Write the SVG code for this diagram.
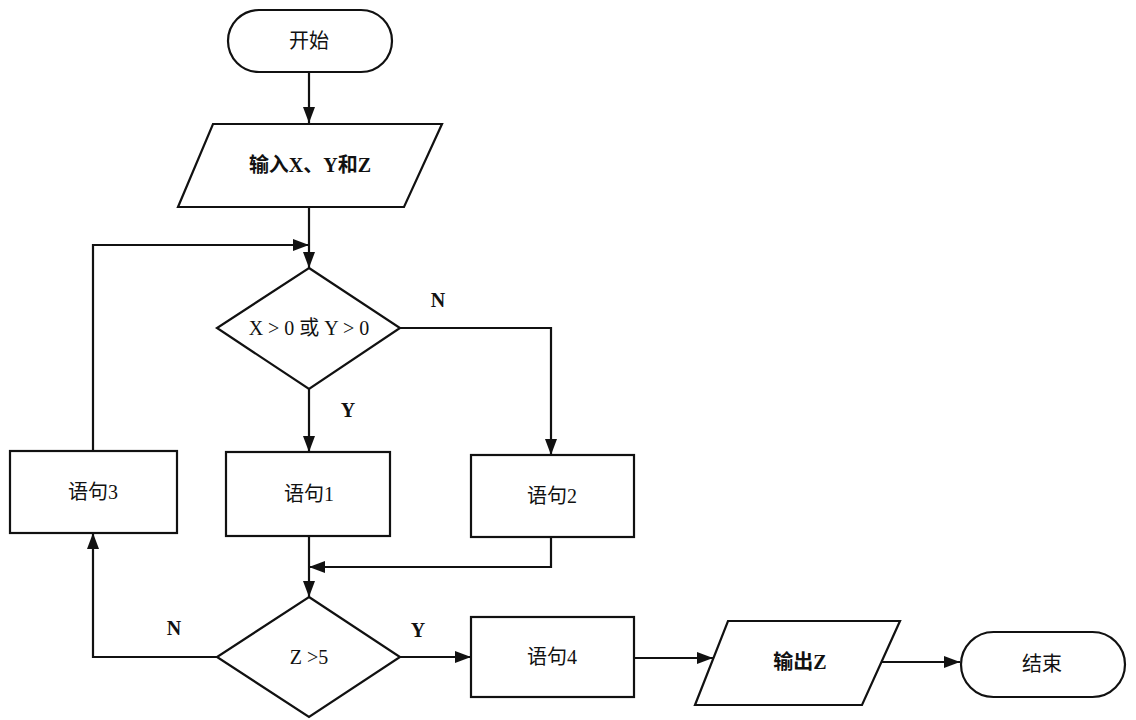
<svg xmlns="http://www.w3.org/2000/svg" width="1136" height="720" viewBox="0 0 1136 720">
<style>
.s{fill:#fff;stroke:#111;stroke-width:2.2}
.c{fill:none;stroke:#111;stroke-width:2.2}
.t{font-family:"Liberation Serif","Noto Sans CJK SC",serif;font-size:20px;fill:#111;text-anchor:middle;dominant-baseline:central}
.b{font-weight:bold}
</style>
<defs>
<marker id="a" viewBox="0 0 16 12" refX="16" refY="6" markerWidth="16" markerHeight="12" markerUnits="userSpaceOnUse" orient="auto">
<path d="M0,0 L16,6 L0,12 Z" fill="#111"/>
</marker>
</defs>
<rect width="1136" height="720" fill="#fff"/>
<g id="connectors">
<path class="c" d="M309,72 V123" marker-end="url(#a)"/>
<path class="c" d="M309,207 V268" marker-end="url(#a)"/>
<path class="c" d="M93,451 V245 H309" marker-end="url(#a)"/>
<path class="c" d="M400,328 H551 V455" marker-end="url(#a)"/>
<path class="c" d="M309,389 V452" marker-end="url(#a)"/>
<path class="c" d="M309,536 V597" marker-end="url(#a)"/>
<path class="c" d="M551,537 V567 H309" marker-end="url(#a)"/>
<path class="c" d="M217,657 H93 V533" marker-end="url(#a)"/>
<path class="c" d="M400,657 H471" marker-end="url(#a)"/>
<path class="c" d="M634,658 H713" marker-end="url(#a)"/>
<path class="c" d="M881,662 H960" marker-end="url(#a)"/>
<text class="t b" x="438" y="300" font-size="17">N</text>
<text class="t b" x="348" y="410" font-size="17">Y</text>
<text class="t b" x="174" y="628" font-size="17">N</text>
<text class="t b" x="418" y="630" font-size="17">Y</text>
</g>
<g id="start">
<rect class="s" x="228" y="10" width="164" height="62" rx="31"/>
<text class="t" x="309" y="41">开始</text>
</g>
<g id="input">
<polygon class="s" points="213,124 442,124 404,207 178,207"/>
<text class="t b" x="310" y="165">输入X、Y和Z</text>
</g>
<g id="cond1">
<polygon class="s" points="309,268 400,328 309,389 217,328"/>
<text class="t" x="309" y="328">X &gt; 0 或 Y &gt; 0</text>
</g>
<g id="stmt3">
<rect class="s" x="10" y="451" width="167" height="82"/>
<text class="t" x="93" y="492">语句3</text>
</g>
<g id="stmt1">
<rect class="s" x="226" y="452" width="164" height="84"/>
<text class="t" x="309" y="494">语句1</text>
</g>
<g id="stmt2">
<rect class="s" x="471" y="455" width="163" height="82"/>
<text class="t" x="552" y="496">语句2</text>
</g>
<g id="cond2">
<polygon class="s" points="309,597 400,657 309,717 217,657"/>
<text class="t" x="309" y="657">Z &gt;5</text>
</g>
<g id="stmt4">
<rect class="s" x="471" y="617" width="163" height="80"/>
<text class="t" x="552" y="657">语句4</text>
</g>
<g id="output">
<polygon class="s" points="728,621 900,621 862,705 695,705"/>
<text class="t b" x="800" y="662">输出Z</text>
</g>
<g id="end">
<rect class="s" x="961" y="632" width="164" height="65" rx="32.5"/>
<text class="t" x="1042" y="664">结束</text>
</g>
</svg>
